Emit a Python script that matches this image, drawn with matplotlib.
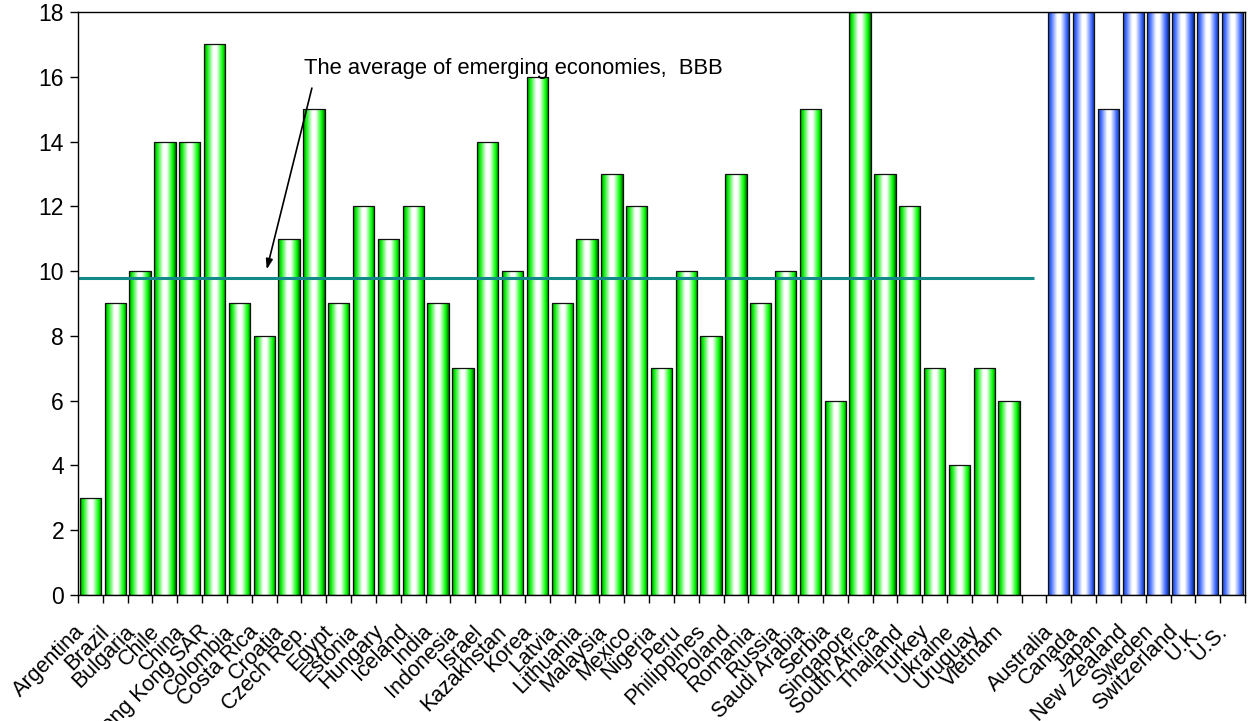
import numpy as np
import matplotlib
matplotlib.use("Agg")
import matplotlib.pyplot as plt
from matplotlib.colors import LinearSegmentedColormap
from matplotlib.transforms import ScaledTranslation

plt.rcParams['font.family'] = ['Liberation Sans', 'DejaVu Sans']

emerging = ["Argentina", "Brazil", "Bulgaria", "Chile", "China", "Hong Kong SAR",
            "Colombia", "Costa Rica", "Croatia", "Czech Rep.", "Egypt", "Estonia",
            "Hungary", "Iceland", "India", "Indonesia", "Israel", "Kazakhstan",
            "Korea", "Latvia", "Lithuania", "Malaysia", "Mexico", "Nigeria", "Peru",
            "Philippines", "Poland", "Romania", "Russia", "Saudi Arabia", "Serbia",
            "Singapore", "South Africa", "Thailand", "Turkey", "Ukraine", "Uruguay",
            "Vietnam"]
emerging_vals = [3, 9, 10, 14, 14, 17, 9, 8, 11, 15, 9, 12, 11, 12, 9, 7, 14, 10,
                 16, 9, 11, 13, 12, 7, 10, 8, 13, 9, 10, 15, 6, 18, 13, 12, 7, 4, 7, 6]

advanced = ["Australia", "Canada", "Japan", "New Zealand", "Sweden", "Switzerland",
            "U.K.", "U.S."]
advanced_vals = [18, 18, 15, 18, 18, 18, 18, 18]

emerging_avg = 9.78
avg_label = "The average of emerging economies,  BBB"

y_ticks = list(range(0, 19, 2))

fig = plt.figure(figsize=(12.48, 7.21), dpi=100)
ax = fig.add_axes([0.0625, 0.1748, 0.9351, 0.8086])

n_em = len(emerging)
x_em = np.arange(n_em)
x_adv = np.arange(n_em + 1, n_em + 1 + len(advanced))
n_slots = n_em + 1 + len(advanced)

green_cmap = LinearSegmentedColormap.from_list(
    "cyl_green", [(0.0, "#007a00"), (0.12, "#00ee00"), (0.42, "#ffffff"),
                  (0.58, "#ffffff"), (0.86, "#00ff00"), (1.0, "#006800")])
blue_cmap = LinearSegmentedColormap.from_list(
    "cyl_blue", [(0.0, "#1a3fa8"), (0.12, "#3a66ff"), (0.42, "#ffffff"),
                 (0.58, "#ffffff"), (0.86, "#3a66ff"), (1.0, "#0a2c8c")])
grad = np.linspace(0, 1, 64).reshape(1, -1)

width = 0.86


def cylinder_bars(xs, vals, cmap):
    bars = ax.bar(xs, vals, width=width, color="none", edgecolor="#111111",
                  linewidth=0.9, zorder=3)
    for b in bars:
        x0, y0 = b.get_x(), b.get_y()
        im = ax.imshow(grad, cmap=cmap, aspect="auto", interpolation="bilinear",
                       extent=(x0, x0 + b.get_width(), y0, y0 + b.get_height()),
                       zorder=2)
        im.set_clip_path(b)
    return bars


cylinder_bars(x_em, emerging_vals, green_cmap)
cylinder_bars(x_adv, advanced_vals, blue_cmap)
ax.set_xlim(-0.5, n_slots - 0.5)
ax.set_ylim(0, 18)

# emerging-market average line
ax.hlines(emerging_avg, -0.5, n_em, colors="#138a8a", linewidth=2.2, zorder=4)

ax.annotate("", xy=(7.1, 10.05), xytext=(8.92, 15.65),
            arrowprops=dict(arrowstyle="-|>,head_length=0.6,head_width=0.2",
                            color="black", lw=1.2, shrinkA=0, shrinkB=0),
            zorder=5)
ax.text(8.62, 16.27, avg_label, fontsize=15.8, va="center", ha="left", zorder=5)

# axes ticks and labels
ax.set_yticks(y_ticks)
ax.tick_params(axis="y", direction="out", length=6, width=1, labelsize=16.5,
               pad=4)
ax.set_xticks(np.arange(-0.5, n_slots, 1.0))
ax.set_xticklabels([])
ax.tick_params(axis="x", which="major", direction="out", length=6, width=1)
ax.set_xticks(np.concatenate([x_em, x_adv]), minor=True)
ax.set_xticklabels(emerging + advanced, minor=True, rotation=45, ha="right",
                   rotation_mode="anchor", fontsize=15.5)
ax.tick_params(axis="x", which="minor", length=0, pad=16)
shift = ScaledTranslation(-0.16, -0.04, fig.dpi_scale_trans)
for lbl in ax.xaxis.get_minorticklabels():
    lbl.set_transform(lbl.get_transform() + shift)

for s in ax.spines.values():
    s.set_linewidth(1.0)
    s.set_color("black")
    s.set_zorder(6)

fig.savefig("out.png", dpi=100)
